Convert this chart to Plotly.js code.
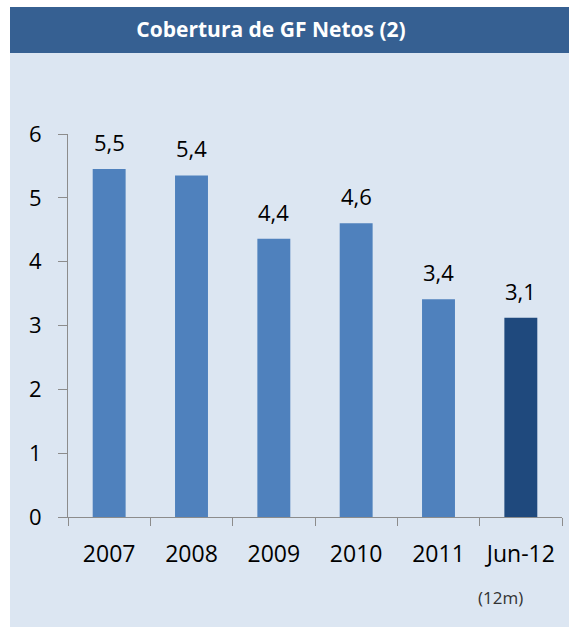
<!DOCTYPE html>
<html>
<head>
<meta charset="utf-8">
<script src="https://cdn.plot.ly/plotly-3.0.1.min.js"></script>
<style>
  body { margin: 0; background: #ffffff; }
  #chart { position: absolute; left: 10px; top: 7px; width: 559px; height: 620px; }
</style>
</head>
<body>
<div id="chart"></div>
<script>
// Data
let categories = ["2007", "2008", "2009", "2010", "2011", "Jun-12"];
let values = [5.45, 5.35, 4.36, 4.6, 3.41, 3.12];
let valueLabels = ["5,5", "5,4", "4,4", "4,6", "3,4", "3,1"];
let barColors = ["#4f81bd", "#4f81bd", "#4f81bd", "#4f81bd", "#4f81bd", "#1f497d"];
let yTicks = [0, 1, 2, 3, 4, 5, 6];
let chartTitle = "Cobertura de GF Netos (2)";
let footNote = "(12m)";

let W = 559, H = 620;
let margin = { l: 58, r: 7, t: 127, b: 110 };
let plotW = W - margin.l - margin.r;
let plotH = H - margin.t - margin.b;

// convert pixel offsets inside the div to paper coords
function px(x) { return (x - margin.l) / plotW; }
function py(y) { return (H - margin.b - y) / plotH; }

let font = "'Open Sans', 'DejaVu Sans', sans-serif";

let trace = {
    type: "bar",
    x: categories,
    y: values,
    marker: { color: barColors },
    width: 0.4,
    hoverinfo: "skip"
};

// annotations use the category index, so "2007" is not read as a number
let annotations = categories.map((c, i) => ({
    x: i, y: values[i], text: valueLabels[i],
    xref: "x", yref: "y", showarrow: false,
    yanchor: "bottom", yshift: 10,
    font: { family: font, size: 22, color: "#000000" }
}));

annotations.push({
    x: categories.length - 1, y: py(590), text: footNote,
    xref: "x", yref: "paper", showarrow: false, yanchor: "middle", xshift: -20,
    font: { family: font, size: 17, color: "#333333" }
});

let layout = {
    width: W,
    height: H,
    margin: margin,
    paper_bgcolor: "#dce6f2",
    plot_bgcolor: "rgba(0,0,0,0)",
    showlegend: false,
    title: {
        text: chartTitle,
        x: 261 / W, xref: "container", xanchor: "center",
        y: 1 - 23 / H, yref: "container", yanchor: "middle",
        font: { family: font, size: 21, color: "#ffffff", weight: "bold" }
    },
    shapes: [{
        type: "rect", xref: "paper", yref: "paper", layer: "below",
        x0: px(0), x1: px(W), y0: py(46), y1: py(0),
        fillcolor: "#366092", line: { width: 0 }
    }],
    xaxis: {
        type: "category",
        categoryorder: "array", categoryarray: categories,
        range: [-0.5, categories.length - 0.5],
        showline: true, linecolor: "#8c8c8c", linewidth: 1,
        ticks: "outside", tickson: "boundaries", ticklen: 8, tickcolor: "#8c8c8c",
        showgrid: false, zeroline: false,
        tickfont: { family: font, size: 23, color: "#000000" },
        ticklabelstandoff: 16,
        fixedrange: true
    },
    yaxis: {
        range: [0, 6],
        tickvals: yTicks,
        showline: true, linecolor: "#8c8c8c", linewidth: 1,
        ticks: "outside", ticklen: 9, tickcolor: "#8c8c8c",
        showgrid: false, zeroline: false,
        tickfont: { family: font, size: 22, color: "#000000" },
        ticklabelstandoff: 12,
        fixedrange: true
    },
    annotations: annotations
};

Plotly.newPlot("chart", [trace], layout, { displayModeBar: false, staticPlot: true });
</script>
</body>
</html>
